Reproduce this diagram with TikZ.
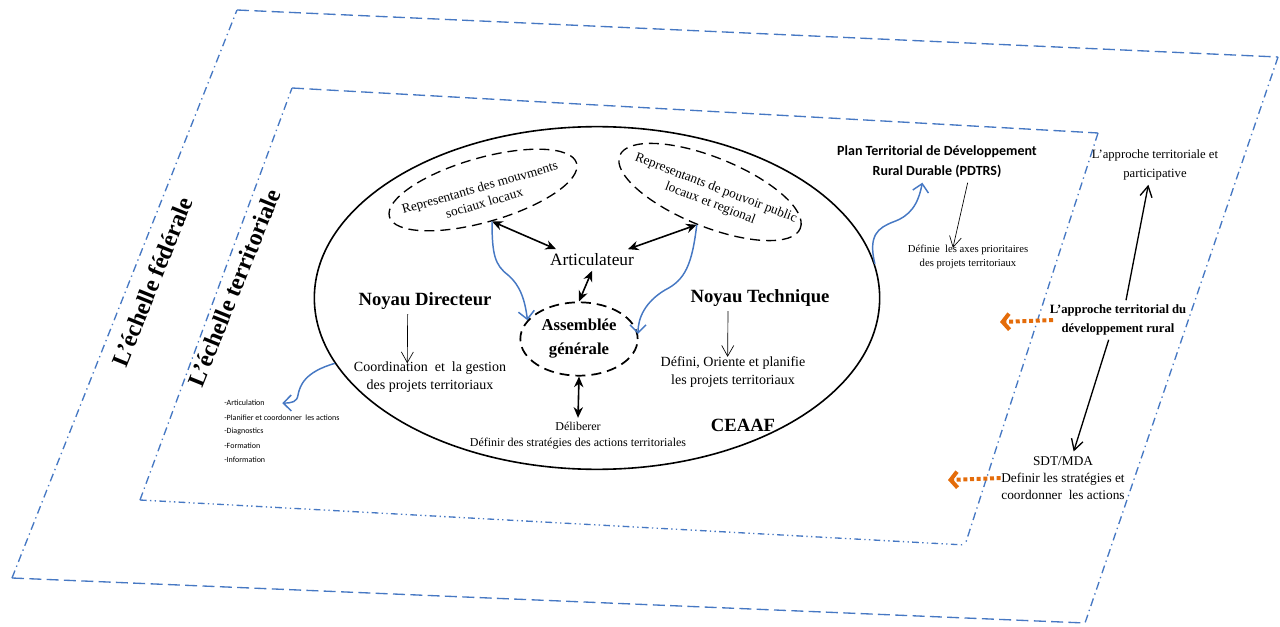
\documentclass[tikz,border=0pt]{standalone}
\usepackage{fontspec}
\setmainfont{Liberation Serif}
\newfontfamily\calibri{Carlito}
\usepackage{tikz}
\usetikzlibrary{positioning,arrows.meta,shapes.geometric}
\definecolor{scaleblue}{RGB}{70,120,195}
\definecolor{orangearrow}{RGB}{228,108,10}

\begin{document}
\begin{tikzpicture}[
    x=0.75pt, y=-0.75pt,
    frame/.style={draw=scaleblue, line width=1pt},
    dashfr/.style={frame, dash pattern=on 9pt off 4pt},
    dotfr/.style={frame, dash pattern=on 6pt off 3pt on 1pt off 3pt},
    dotdotfr/.style={frame, dash pattern=on 5pt off 2.5pt on 1pt off 2.5pt on 1pt off 2.5pt},
    echelle/.style={font=\fontsize{18}{20}\selectfont\bfseries, rotate=68},
    groupe/.style={draw, ellipse, dash pattern=on 7.5pt off 4.5pt, line width=1pt, inner sep=0pt},
    grptxt/.style={align=center, inner sep=0pt, font=\fontsize{10}{12}\selectfont},
    titre/.style={font=\fontsize{14}{16}\selectfont\bfseries},
    texte/.style={align=center, font=\fontsize{10.5}{14}\selectfont},
    petit/.style={align=center, font=\fontsize{8}{11}\selectfont},
    liste/.style={anchor=west, inner sep=0pt, font=\calibri\fontsize{6}{7}\selectfont},
    dbl/.style={{Stealth[length=8pt,width=7pt]}-{Stealth[length=8pt,width=7pt]}, line width=1.2pt},
    fleche/.style={-{Straight Barb[length=8pt,width=9pt]}, line width=0.5pt},
    bleue/.style={draw=scaleblue, line width=1.1pt, -{Straight Barb[length=6pt,width=12pt]}},
    retour/.style={draw=orangearrow, line width=3pt, dash pattern=on 3pt off 2pt, -{Straight Barb[length=5pt,width=12pt]}}
]
\useasboundingbox (0,0) rectangle (1280,627);

% Cadres des echelles
\coordinate (f1) at (237,10);
\coordinate (f2) at (1278,57);
\coordinate (f3) at (1085,623);
\coordinate (f4) at (12,578);
\draw[dashfr] (f1) -- (f2);
\draw[dotfr] (f2) -- (f3);
\draw[dashfr] (f4) -- (f3);
\draw[dotfr] (f4) -- (f1);
\coordinate (t1) at (292,88);
\coordinate (t2) at (1098,133);
\coordinate (t3) at (965,545);
\coordinate (t4) at (140,500);
\draw[dashfr] (t1) -- (t2);
\draw[dotfr] (t2) -- (t3);
\draw[dotdotfr] (t4) -- (t3);
\draw[dotfr] (t4) -- (t1);

\node[echelle] (fed) at (152,282) {L’échelle fédérale};
\node[echelle] (terr) at (234,288) {L’échelle territoriale};

% CEAAF
\node[draw, ellipse, line width=1.2pt, minimum width=424pt, minimum height=257pt] (cadre) at (597,298) {};
\node[groupe, rotate=16, minimum width=146pt, minimum height=48pt] (mouv) at (483,190) {};
\node[grptxt, rotate=16] (mouvtxt) at (482,195) {Representants des mouvments\\sociaux locaux};
\node[groupe, rotate=-22, minimum width=146pt, minimum height=52pt] (pouv) at (710,192) {};
\node[grptxt, rotate=-21] (pouvtxt) at (713,196) {Representants de pouvoir public\\locaux et regional};
\node[font=\fontsize{13}{15}\selectfont] (art) at (592,260) {Articulateur};
\node[groupe, line width=1.3pt, minimum width=88pt, minimum height=55pt] (ag) at (579,339) {};
\node[align=center, inner sep=0pt, font=\fontsize{12.5}{18}\selectfont\bfseries] (agtxt) at (ag.center) {Assemblée\\générale};
\node[titre] (dir) at (425,301) {Noyau Directeur};
\node[texte] (coord) at (430,377) {Coordination \ et \ la gestion\\des projets territoriaux};
\node[titre] (tech) at (760,298) {Noyau Technique};
\node[texte] (def) at (733,372) {Défini, Oriente et planifie\\les projets territoriaux};
\node[align=center, font=\fontsize{9}{12}\selectfont] (delib) at (578,436) {Déliberer\\Définir des stratégies des actions territoriales};
\node[titre] (ceaaf) at (743,425) {CEAAF};

% Liste des roles
\foreach \t [count=\i] in {-Articulation, -Planifier et coordonner \ les actions, -Diagnostics, -Formation, -Information}
    \node[liste] (l\i) at (224, 389+14.2*\i) {\t};

% PDTRS
\node[align=center, font=\calibri\fontsize{10.5}{15}\selectfont\bfseries] (pdtrs) at (937,162) {Plan Territorial de Développement\\Rural Durable (PDTRS)};
\node[petit] (axes) at (968,257) {Définie \ les axes prioritaires\\des projets territoriaux};

% Approches
\node[align=center, font=\fontsize{9.5}{14}\selectfont] (appt) at (1155,165) {L’approche territoriale et\\participative};
\node[align=center, font=\fontsize{9.5}{14}\selectfont\bfseries] (appdr) at (1118,320) {L’approche territorial du\\développement rural};
\node[align=center, font=\fontsize{10}{13}\selectfont] (sdt) at (1063,478) {SDT/MDA\\Definir les stratégies et\\coordonner \ les actions};
\coordinate (g1) at (1000,322);
\coordinate (g2) at (948,480);

% Arrows
\draw[dbl] (mouv.south) -- ([xshift=8pt]art.north west);
\draw[dbl] (pouv.south) -- ([xshift=-8pt]art.north east);
\draw[dbl] (art.south) -- (ag.north);
\draw[dbl] (ag.south) -- (delib.north);
\draw[fleche, shorten >=-5pt] ([xshift=-13pt]dir.south) -- ([xshift=-17pt]coord.north);
\draw[fleche, shorten >=-4pt] ([xshift=-24pt]tech.south) -- ([xshift=-4pt]def.north);
\draw[bleue] (mouv.south) .. controls (492,255) and (495,265) .. (508,275) .. controls (520,285) and (525,300) .. (ag.160);
\draw[bleue] (pouv.south) .. controls (692,265) and (685,280) .. (665,290) .. controls (645,302) and (638,318) .. (ag.5);
\draw[bleue, shorten >=13pt] (cadre.194) .. controls (305,372) and (300,385) .. (298,395) .. controls (297,402) and (292,403) .. (l1.east);
\draw[bleue] (cadre.7) .. controls (868,235) and (878,228) .. (893,222) .. controls (910,216) and (918,205) .. ([xshift=-11pt]pdtrs.south);
\draw[fleche, shorten >=-6pt] ([xshift=23pt]pdtrs.south) -- ([xshift=-10pt]axes.north);
\draw[fleche, line width=1pt] ([xshift=6pt]appdr.north) -- ([xshift=-5pt]appt.south);
\draw[fleche, line width=1pt] ([xshift=-7pt]appdr.south) -- ([xshift=8pt]sdt.north);
\draw[retour] ([xshift=6pt]appdr.west) -- (g1);
\draw[retour] ([xshift=3pt]sdt.west) -- (g2);
\end{tikzpicture}
\end{document}
